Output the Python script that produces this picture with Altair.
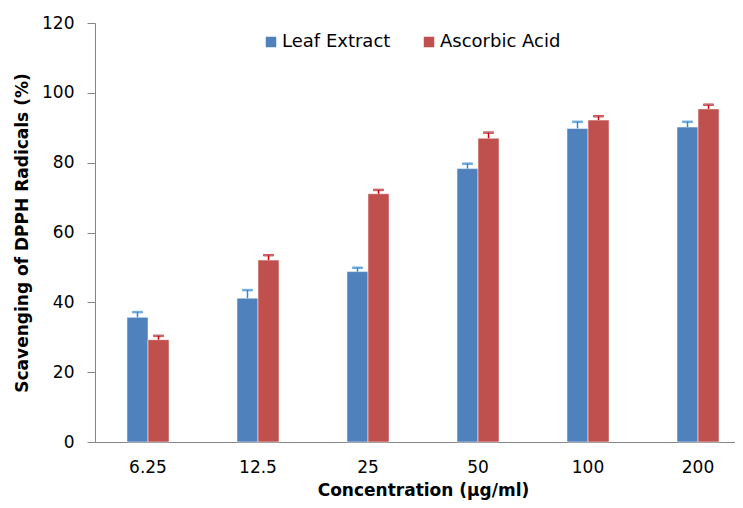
import altair as alt
import pandas as pd

concentrations = ["6.25", "12.5", "25", "50", "100", "200"]
series_names = ["Leaf Extract", "Ascorbic Acid"]
leaf_values = [35.7, 41.2, 48.8, 78.3, 89.8, 90.2]
leaf_errors = [1.5, 2.3, 1.1, 1.4, 1.9, 1.5]
acid_values = [29.3, 52.1, 71.1, 87.0, 92.2, 95.4]
acid_errors = [1.1, 1.4, 1.1, 1.6, 1.1, 1.2]

rows = []
for c, v, e in zip(concentrations, leaf_values, leaf_errors):
    rows.append({"conc": c, "series": series_names[0], "value": v, "upper": v + e})
for c, v, e in zip(concentrations, acid_values, acid_errors):
    rows.append({"conc": c, "series": series_names[1], "value": v, "upper": v + e})
df = pd.DataFrame(rows)

FONT = "DejaVu Sans"
x_enc = alt.X(
    "conc:N",
    sort=concentrations,
    scale=alt.Scale(paddingInner=0.618, paddingOuter=0.218, align=0.667),
    axis=alt.Axis(
        title="Concentration (µg/ml)",
        labelAngle=0,
        ticks=False,
        tickSize=0,
        labelPadding=25,
        labelBaseline="middle",
        labelFont=FONT,
        labelFontSize=17,
        labelColor="#000000",
        titleFont=FONT,
        titleFontSize=17,
        titleFontWeight="bold",
        titleColor="#000000",
        titleX=328,
        titleY=48,
        titleBaseline="middle",
        titleAlign="center",
        domainColor="#868686",
        domainWidth=1,
    ),
)
xoff = alt.XOffset("series:N", sort=series_names, scale=alt.Scale(paddingInner=0, paddingOuter=0))

y_axis = alt.Axis(
    title="Scavenging of DPPH Radicals (%)",
    values=[0, 20, 40, 60, 80, 100, 120],
    grid=False,
    tickSize=8,
    tickColor="#868686",
    domainColor="#868686",
    labelPadding=13,
    labelFont=FONT,
    labelFontSize=17,
    labelColor="#000000",
    titleFont=FONT,
    titleFontSize=17,
    titleFontWeight="bold",
    titleColor="#000000",
    titleX=-73,
    titleY=209.5,
    titleAngle=270,
    titleAlign="center",
    titleBaseline="middle",
)
y_scale = alt.Scale(domain=[0, 120], nice=False)

bars = alt.Chart(df).mark_bar(stroke="#ffffff", strokeOpacity=0.5, strokeWidth=1).encode(
    x=x_enc,
    xOffset=xoff,
    y=alt.Y("value:Q", scale=y_scale, axis=y_axis),
    color=alt.Color(
        "series:N",
        sort=series_names,
        scale=alt.Scale(domain=series_names, range=["#4F81BD", "#C0504D"]),
        legend=alt.Legend(
            title=None,
            orient="none",
            legendX=167,
            legendY=10,
            direction="horizontal",
            symbolType="square",
            symbolSize=110,
            symbolStrokeWidth=0,
            labelFont=FONT,
            labelFontSize=18,
            labelColor="#000000",
            labelOffset=2,
            columnPadding=29,
            padding=0,
        ),
    ),
)

err_stroke = alt.Stroke(
    "series:N",
    scale=alt.Scale(domain=series_names, range=["#2A8AD8", "#D00000"]),
    legend=None,
)

rules = alt.Chart(df).mark_rule(strokeWidth=1.5).encode(
    x=alt.X("conc:N", sort=concentrations),
    xOffset=alt.XOffset("series:N", sort=series_names),
    y="value:Q",
    y2="upper:Q",
    stroke=err_stroke,
)

caps = alt.Chart(df).mark_tick(size=10, thickness=1.5, orient="horizontal").encode(
    x=alt.X("conc:N", sort=concentrations),
    xOffset=alt.XOffset("series:N", sort=series_names),
    y="upper:Q",
    stroke=err_stroke,
)

chart = alt.layer(bars, rules, caps).properties(
    width=640,
    height=419,
    autosize=alt.AutoSizeParams(type="none"),
    padding={"left": 87, "top": 15, "right": 0, "bottom": 58},
).configure_view(stroke=None).configure_tick(bandSize=10)

chart.save("out.html", embed_options={"renderer": "svg", "actions": False})
